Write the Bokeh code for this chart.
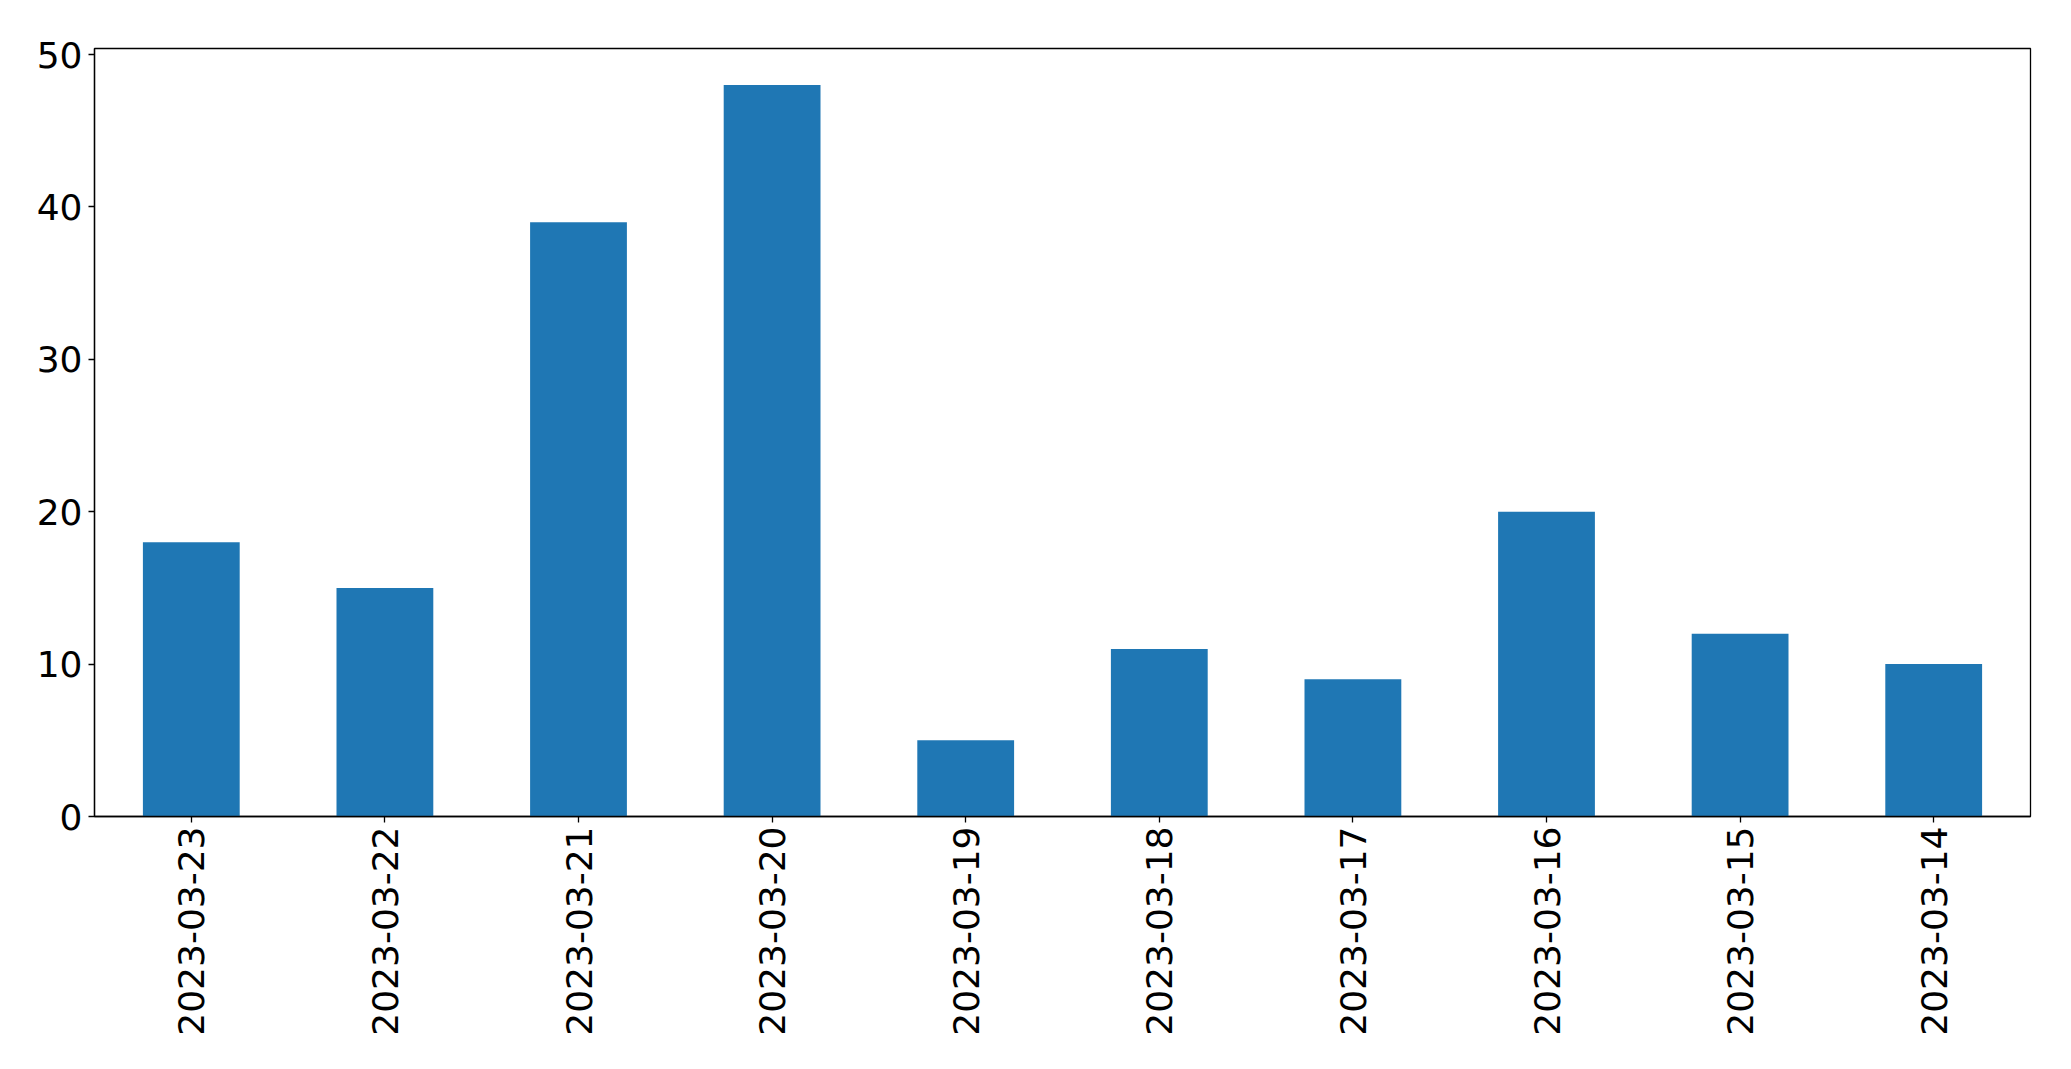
import math
from bokeh.plotting import figure
from bokeh.models import FactorRange, Range1d, FixedTicker
from bokeh.embed import file_html
from bokeh.resources import INLINE

dates = ["2023-03-23", "2023-03-22", "2023-03-21", "2023-03-20", "2023-03-19",
         "2023-03-18", "2023-03-17", "2023-03-16", "2023-03-15", "2023-03-14"]
counts = [18, 15, 39, 48, 5, 11, 9, 20, 12, 10]
y_ticks = [0, 10, 20, 30, 40, 50]

p = figure(width=2050, height=1053, x_range=FactorRange(*dates),
           y_range=Range1d(0, 50.4), output_backend="svg", toolbar_location=None,
           min_border_left=94, min_border_right=20, min_border_top=48, min_border_bottom=237)

p.vbar(x=dates, top=counts, width=0.5, fill_color="#1f77b4", line_color=None)

p.xgrid.visible = False
p.ygrid.visible = False
p.outline_line_color = "black"
p.outline_line_alpha = 1
p.outline_line_width = 1.3

for ax in (p.xaxis[0], p.yaxis[0]):
    ax.axis_line_color = "black"
    ax.axis_line_width = 1.3
    ax.major_tick_line_color = "black"
    ax.major_tick_line_width = 1.3
    ax.major_tick_out = 6
    ax.major_tick_in = 0
    ax.minor_tick_line_color = None
    ax.major_label_text_font = "DejaVu Sans"
    ax.major_label_text_font_size = "36px"
    ax.major_label_text_color = "black"

p.yaxis[0].ticker = FixedTicker(ticks=y_ticks)
p.yaxis[0].major_label_standoff = 6
p.xaxis[0].major_label_orientation = math.pi / 2
p.xaxis[0].major_label_standoff = 4
p.xaxis[0].group_text_font_size = "0px"

open("out.html", "w").write(file_html(p, INLINE))
